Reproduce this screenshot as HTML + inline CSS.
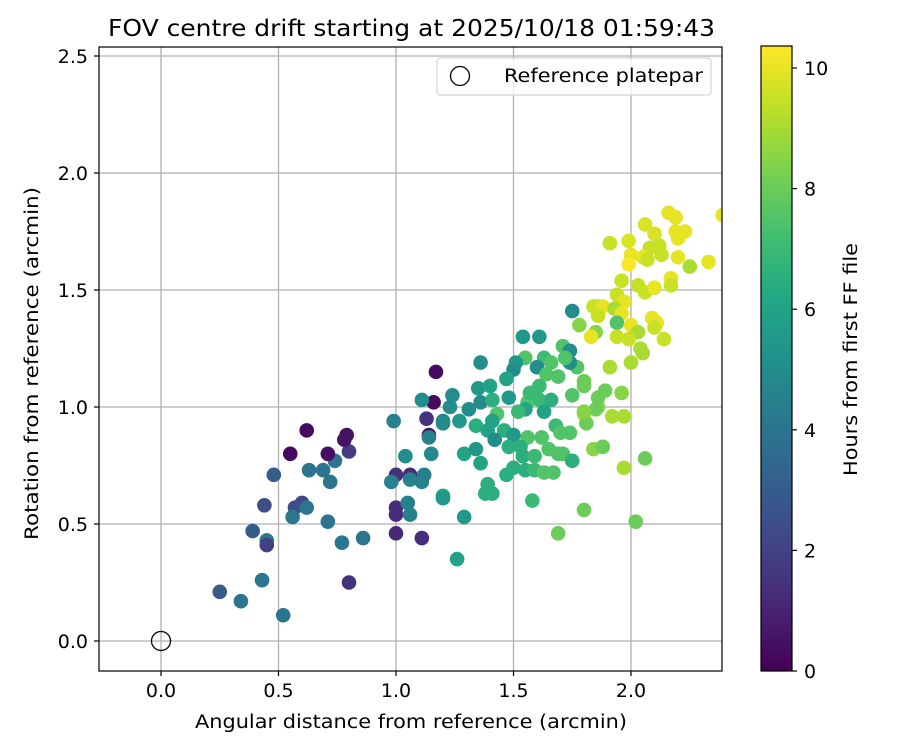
<!DOCTYPE html>
<html><head><meta charset="utf-8"><style>
body{margin:0;background:#fff;}
svg{display:block;font-family:"DejaVu Sans","Liberation Sans",sans-serif;}
</style></head><body>
<svg id="chart" width="900" height="750">
<defs>
<linearGradient id="vir" x1="0" y1="1" x2="0" y2="0">
<stop offset="0" stop-color="#440154"/><stop offset="0.1" stop-color="#482475"/><stop offset="0.2" stop-color="#414487"/><stop offset="0.3" stop-color="#355f8d"/><stop offset="0.4" stop-color="#2a788e"/><stop offset="0.5" stop-color="#21918c"/><stop offset="0.6" stop-color="#22a884"/><stop offset="0.7" stop-color="#44bf70"/><stop offset="0.8" stop-color="#7ad151"/><stop offset="0.9" stop-color="#bddf26"/><stop offset="1" stop-color="#fde725"/>
</linearGradient>
<clipPath id="pc"><rect x="99" y="47" width="623" height="624"/></clipPath>
</defs>
<text x="108" y="36" font-size="23" textLength="607" lengthAdjust="spacingAndGlyphs">FOV centre drift starting at 2025/10/18 01:59:43</text>
<g id="grid"></g>
<g id="pts" clip-path="url(#pc)"></g>
<rect x="99" y="47" width="623" height="624" fill="none" stroke="#000" stroke-width="1.2"/>
<g id="axes"></g>
<text x="195" y="728" font-size="18.5" textLength="432" lengthAdjust="spacingAndGlyphs">Angular distance from reference (arcmin)</text>
<text transform="translate(38,540) rotate(-90)" font-size="18.5" textLength="353" lengthAdjust="spacingAndGlyphs">Rotation from reference (arcmin)</text>
<g>
<rect x="437" y="58" width="274" height="37" rx="3" fill="#fff" fill-opacity="0.8" stroke="#ccc"/>
<circle cx="460" cy="76" r="9.5" fill="none" stroke="#000" stroke-width="1.3"/>
<text x="504" y="82" font-size="18.5" textLength="199" lengthAdjust="spacingAndGlyphs">Reference platepar</text>
</g>
<rect x="761" y="46" width="31" height="625" fill="url(#vir)" stroke="#000" stroke-width="1.2"/>
<g id="cbt"></g>
<text transform="translate(857,476) rotate(-90)" font-size="18.5" textLength="233" lengthAdjust="spacingAndGlyphs">Hours from first FF file</text>
</svg>
<script>
const xTicks=[0.0,0.5,1.0,1.5,2.0];
const yTicks=[0.0,0.5,1.0,1.5,2.0,2.5];
const cTicks=[0,2,4,6,8,10];
const xs=[0.25,0.34,0.52,0.39,0.45,0.45,0.77,0.86,1.0,1.11,0.43,0.80,0.44,0.60,0.57,0.62,0.56,0.71,1.0,1.0,1.05,1.06,0.48,1.0,1.06,1.12,0.98,1.06,1.11,1.2,0.63,0.69,0.72,0.74,0.55,0.71,0.80,0.62,0.79,0.78,1.17,1.16,1.11,0.99,1.13,1.14,1.14,1.15,1.04,1.2,
1.54,1.61,1.78,1.36,1.55,1.63,1.71,1.74,1.77,1.66,1.51,1.50,1.60,1.64,1.47,1.61,1.35,1.40,1.24,1.48,1.36,1.41,1.56,1.61,1.66,1.75,1.80,1.23,1.31,1.43,1.55,1.63,1.80,1.86,1.20,1.27,1.34,1.41,1.39,1.46,1.42,1.50,1.56,1.62,1.68,1.70,1.74,1.81,1.84,1.48,1.53,1.65,1.29,1.34,1.36,1.54,1.59,1.69,1.71,1.75,1.47,1.50,1.55,1.59,1.63,1.67,1.39,1.38,1.41,1.20,1.58,1.80,1.29,1.69,1.26,
2.16,2.19,2.39,2.06,1.91,1.99,2.10,2.19,2.23,2.20,2.08,2.12,2.0,2.05,2.07,2.13,2.20,2.33,2.25,1.99,1.96,2.03,2.06,2.10,2.17,2.17,1.94,1.97,1.84,1.86,1.88,1.86,1.93,1.96,1.94,2.0,2.03,2.09,2.11,2.10,2.14,1.75,1.85,1.83,1.94,1.99,2.04,2.05,1.74,1.91,2.0,1.80,1.89,1.96,1.86,1.85,1.80,1.92,1.97,1.88,1.97,2.06,2.02,1.72,1.69,1.57,1.52];
const ys=[0.21,0.17,0.11,0.47,0.43,0.41,0.42,0.44,0.46,0.44,0.26,0.25,0.58,0.59,0.57,0.57,0.53,0.51,0.57,0.54,0.59,0.54,0.71,0.71,0.71,0.71,0.68,0.69,0.68,0.62,0.73,0.73,0.68,0.77,0.80,0.80,0.81,0.90,0.88,0.86,1.15,1.02,1.03,0.94,0.95,0.88,0.87,0.80,0.79,0.94,
1.30,1.30,1.35,1.19,1.21,1.21,1.26,1.24,1.17,1.19,1.19,1.16,1.17,1.14,1.12,1.09,1.08,1.09,1.05,1.04,1.02,1.03,1.02,1.03,1.03,1.05,1.09,1.0,0.99,0.97,0.99,0.98,0.97,1.0,0.93,0.94,0.92,0.94,0.90,0.90,0.86,0.88,0.87,0.87,0.92,0.89,0.89,0.93,0.82,0.83,0.83,0.82,0.80,0.82,0.76,0.79,0.79,0.80,0.80,0.77,0.71,0.74,0.73,0.73,0.72,0.72,0.67,0.63,0.63,0.61,0.60,0.56,0.53,0.46,0.35,
1.83,1.81,1.82,1.78,1.70,1.71,1.74,1.75,1.75,1.72,1.68,1.69,1.65,1.64,1.63,1.65,1.64,1.62,1.60,1.61,1.54,1.52,1.49,1.51,1.55,1.52,1.48,1.45,1.43,1.43,1.43,1.39,1.42,1.40,1.36,1.35,1.32,1.38,1.36,1.34,1.29,1.41,1.32,1.30,1.30,1.29,1.25,1.23,1.19,1.17,1.19,1.11,1.07,1.06,1.04,0.99,0.98,0.96,0.96,0.83,0.74,0.78,0.51,1.21,1.13,1.06,0.98];
const hours=[3,4,4,3,4,2,4,4,1.2,1.3,4,1.5,2.5,2.2,2.4,4,4,4,1.3,1.3,4.5,4.5,3,1.5,1.3,4.5,4.5,4.5,4.5,5.8,4,4,4,4,0.3,0.4,1.8,0.3,0.4,0.5,0.3,0.3,5,4.5,1.5,0.5,4.5,4.8,5,4.5,
5.5,5.5,8.5,5,7.5,7,7.5,5,7.5,7.5,5.5,5,5,7.5,6,7,5.5,6,5,5.5,5,6.5,7.5,7,6.5,7.5,8,5,5,7.5,6,6,9,8.5,5,5.5,6.5,6,6,6.5,5,5.5,7.5,7.5,7,7.5,7.5,8,8.5,6.5,6.5,7.5,6,5.5,6,6.5,7,7.5,7.5,6.5,6.5,6.5,6.5,7,7.5,7.5,6.5,6.5,6.5,5.5,7,8,5.5,8,6,
10,10,10,9.8,9.5,9.8,9.7,10,10,10,9.5,9.5,10,10,9.5,9.5,10,10,9,10.3,9.5,9.5,9.5,10,10,9.5,9.5,10,9.5,9.5,10,9.5,9,10,7.5,10,9,10,10,9.5,9.5,5,8.5,10,9.5,9.5,9,9,5,9,9,8,8,8.5,8,8,8.5,9,9,8,9,8,8,7.5,7.5,7,7];
const vmax=10.35;
const NS='http://www.w3.org/2000/svg';
const X=v=>161+v*235, Y=v=>641-v*234;
const vir=['#440154','#482475','#414487','#355f8d','#2a788e','#21918c','#22a884','#44bf70','#7ad151','#bddf26','#fde725'];
function hex(c){return [1,3,5].map(i=>parseInt(c.substr(i,2),16));}
function cmap(h){let t=Math.max(0,Math.min(1,h/vmax))*10;let i=Math.min(9,Math.floor(t));let f=t-i;let a=hex(vir[i]),b=hex(vir[i+1]);return 'rgb('+a.map((v,k)=>Math.round(v+(b[k]-v)*f)).join(',')+')';}
function mk(tag,attrs,parent,txt){const e=document.createElementNS(NS,tag);for(const k in attrs)e.setAttribute(k,attrs[k]);if(txt!==undefined)e.textContent=txt;parent.appendChild(e);return e;}
const grid=document.getElementById('grid'),axes=document.getElementById('axes'),pts=document.getElementById('pts'),cbt=document.getElementById('cbt');
xTicks.forEach(v=>{
 const g=mk('line',{x1:X(v),x2:X(v),y1:47,y2:671,stroke:'#b0b0b0','stroke-width':1.3},grid);
 
 
 mk('line',{x1:X(v),x2:X(v),y1:671,y2:676,stroke:'#000','stroke-width':1.2},axes);
 const t=mk('text',{x:X(v),y:697,'font-size':19,'text-anchor':'middle'},axes,v.toFixed(1));
 
 
});
yTicks.forEach(v=>{
 const g=mk('line',{x1:99,x2:722,y1:Y(v),y2:Y(v),stroke:'#b0b0b0','stroke-width':1.3},grid);
 
 
 mk('line',{x1:94,x2:99,y1:Y(v),y2:Y(v),stroke:'#000','stroke-width':1.2},axes);
 const t=mk('text',{x:88,y:Y(v)+7,'font-size':19,'text-anchor':'end'},axes,v.toFixed(1));
 
 
});
cTicks.forEach(v=>{
 const y=671-v*60.3;
 mk('line',{x1:792,x2:797,y1:y,y2:y,stroke:'#000','stroke-width':1.2},cbt);
 const t=mk('text',{x:804,y:y+7,'font-size':19},cbt,String(v));
 
 
});
xs.forEach((x,i)=>{
 const c=mk('circle',{cx:X(x),cy:Y(ys[i]),r:7.3,fill:cmap(hours[i])},pts);
 
 
});
const ref=mk('circle',{cx:X(0),cy:Y(0),r:9.5,fill:'none',stroke:'#000','stroke-width':1.3},pts);


</script>
</body></html>
